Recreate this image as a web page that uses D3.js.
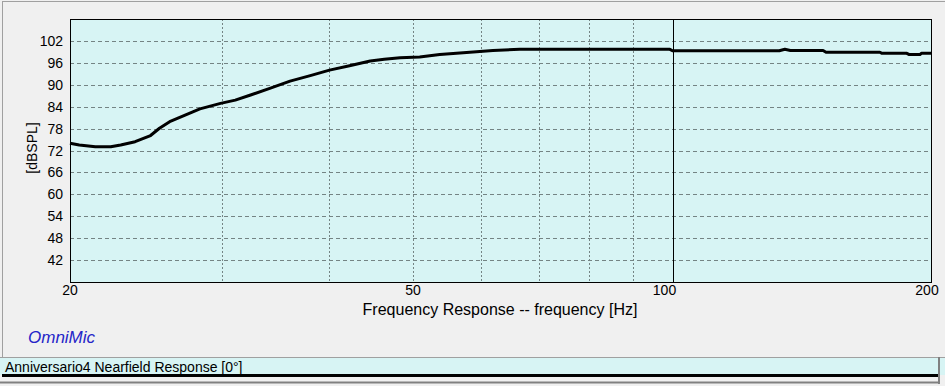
<!DOCTYPE html>
<html>
<head>
<meta charset="utf-8">
<script src="https://cdn.jsdelivr.net/npm/d3@7"></script>
<style>
  html, body { margin: 0; padding: 0; background: #f0f0f0; }
  svg { display: block; font-family: "Liberation Sans", Arial, sans-serif; }
</style>
</head>
<body>
<svg id="chart" width="945" height="386"></svg>
<script>
// ---- data ----
const freqHz = [20, 20.5, 21.4, 22.3, 22.9, 23.8, 24.8, 25.4, 26.1, 27.2, 28.3, 29.9, 31.1, 32.4, 34.1, 36.0, 38.0, 40.0, 42.2, 44.6, 46.3, 48.3, 50.9, 53.7, 58.2, 61.9, 66.5, 82.4, 99.3, 100, 133, 135, 137, 149.5, 150.7, 174, 175, 187, 188, 193.7, 194.5, 200];
const splDb  = [74.0, 73.5, 73.0, 73.0, 73.5, 74.4, 76.1, 78.1, 79.9, 81.7, 83.4, 84.9, 85.8, 87.2, 89.0, 91.0, 92.5, 94.0, 95.2, 96.5, 97.0, 97.4, 97.6, 98.3, 98.9, 99.4, 99.7, 99.7, 99.7, 99.3, 99.3, 99.7, 99.4, 99.4, 98.9, 98.9, 98.6, 98.6, 98.3, 98.3, 98.6, 98.6];
const yTicks = [42, 48, 54, 60, 66, 72, 78, 84, 90, 96, 102];
const xGridMinor = [30, 40, 50, 60, 70, 80, 90];
const xTickLabels = [20, 50, 100, 200];
const xMajor = [100];
const xTitle = "Frequency Response -- frequency [Hz]";
const yTitle = "[dBSPL]";
const brand = "OmniMic";
const legendLabel = "Anniversario4 Nearfield Response [0°]";

// ---- layout ----
const W = 945, H = 386;
const plot = { left: 70, top: 19, right: 932, bottom: 282 };
const svg = d3.select("#chart");

const x = d3.scaleLog().domain([20, 200]).range([plot.left, plot.right]);
const y = d3.scaleLinear().domain([36, 108]).range([plot.bottom, plot.top]);

// outer frame
svg.append("rect").attr("x", 0).attr("y", 0).attr("width", W).attr("height", H).attr("fill", "#f0f0f0");
svg.append("line").attr("x1", 2).attr("x2", W).attr("y1", 1.5).attr("y2", 1.5).attr("stroke", "#a0a0a0");
svg.append("line").attr("x1", 2.5).attr("x2", 2.5).attr("y1", 1.5).attr("y2", 357).attr("stroke", "#a0a0a0");

// plot background
svg.append("rect")
  .attr("x", plot.left).attr("y", plot.top)
  .attr("width", plot.right - plot.left).attr("height", plot.bottom - plot.top)
  .attr("fill", "#d7f4f4");

// horizontal grid
svg.append("g").selectAll("line").data(yTicks).join("line")
  .attr("x1", plot.left).attr("x2", plot.right)
  .attr("y1", d => Math.round(y(d)) + 0.5).attr("y2", d => Math.round(y(d)) + 0.5)
  .attr("stroke", "#748484").attr("stroke-dasharray", "4,3");

// vertical grid
svg.append("g").selectAll("line").data(xGridMinor).join("line")
  .attr("x1", d => Math.round(x(d)) + 0.5).attr("x2", d => Math.round(x(d)) + 0.5)
  .attr("y1", plot.top).attr("y2", plot.bottom)
  .attr("stroke", "#748484").attr("stroke-dasharray", "2,2");

svg.append("g").selectAll("line").data(xMajor).join("line")
  .attr("x1", d => Math.round(x(d)) + 0.5).attr("x2", d => Math.round(x(d)) + 0.5)
  .attr("y1", plot.top).attr("y2", plot.bottom)
  .attr("stroke", "#000");

// plot border
svg.append("rect")
  .attr("x", plot.left + 0.5).attr("y", plot.top + 0.5)
  .attr("width", plot.right - plot.left - 1).attr("height", plot.bottom - plot.top)
  .attr("fill", "none").attr("stroke", "#000");

// curve
const pts = freqHz.map((f, i) => [f, splDb[i]]);
svg.append("path")
  .datum(pts)
  .attr("fill", "none").attr("stroke", "#000").attr("stroke-width", 3)
  .attr("stroke-linejoin", "round")
  .attr("d", d3.line().x(d => x(d[0])).y(d => y(d[1])));

// y tick labels
svg.append("g").selectAll("text").data(yTicks).join("text")
  .attr("x", plot.left - 7).attr("y", d => y(d))
  .attr("dy", "0.36em")
  .attr("text-anchor", "end").attr("font-size", 14).attr("fill", "#000")
  .text(d => d);

// x tick labels
const labelShift = d => (d === 100 ? -8 : d === 200 ? -5 : 0);
svg.append("g").selectAll("text").data(xTickLabels).join("text")
  .attr("x", d => x(d) + labelShift(d)).attr("y", 295)
  .attr("text-anchor", "middle").attr("font-size", 14).attr("fill", "#000")
  .text(d => d);

// axis titles
svg.append("text")
  .attr("x", 500).attr("y", 315)
  .attr("text-anchor", "middle").attr("font-size", 16).attr("fill", "#000")
  .text(xTitle);

svg.append("text")
  .attr("transform", "translate(37,148) rotate(-90)")
  .attr("text-anchor", "middle").attr("font-size", 14).attr("fill", "#000")
  .text(yTitle);

// brand
svg.append("text")
  .attr("x", 28).attr("y", 343)
  .attr("font-size", 17).attr("font-style", "italic").attr("fill", "#2525c8")
  .text(brand);

// legend strip
svg.append("rect").attr("x", 0).attr("y", 357).attr("width", W).attr("height", 18).attr("fill", "#d7f4f4");
svg.append("line").attr("x1", 0).attr("x2", W).attr("y1", 357.5).attr("y2", 357.5).attr("stroke", "#a0a0a0");
svg.append("line").attr("x1", 2).attr("x2", 939).attr("y1", 375.5).attr("y2", 375.5).attr("stroke", "#000").attr("stroke-width", 3);
svg.append("line").attr("x1", 0).attr("x2", 940).attr("y1", 382.5).attr("y2", 382.5).attr("stroke", "#808080").attr("stroke-width", 2);
svg.append("line").attr("x1", 939).attr("x2", 939).attr("y1", 357).attr("y2", 384).attr("stroke", "#808080").attr("stroke-width", 2);
svg.append("text")
  .attr("x", 5).attr("y", 371.5)
  .attr("font-size", 14).attr("fill", "#000")
  .text(legendLabel);
</script>
</body>
</html>
